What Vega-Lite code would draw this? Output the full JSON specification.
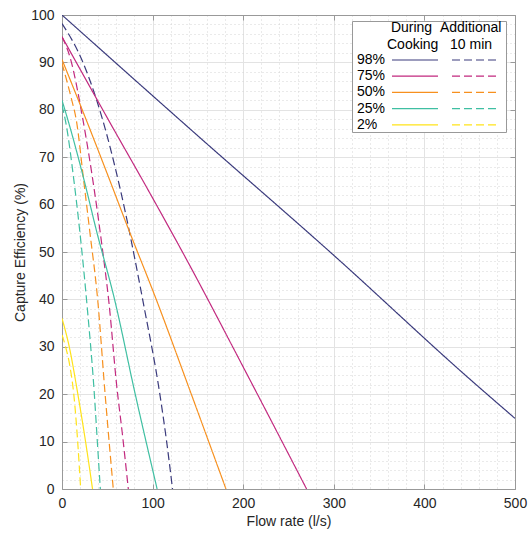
{
  "$schema": "https://vega.github.io/schema/vega-lite/v6.json",
  "width": 453,
  "height": 474,
  "autosize": {"type": "none"},
  "padding": {"left": 62, "top": 15, "right": 15, "bottom": 46},
  "background": "white",
  "config": {
    "font": "Liberation Sans",
    "view": {"stroke": null},
    "axis": {
      "labelFont": "Liberation Sans",
      "labelFontSize": 14,
      "labelColor": "#262626",
      "labelFlush": false,
      "titleFont": "Liberation Sans",
      "titleFontSize": 14,
      "titleFontWeight": "normal",
      "titleColor": "#262626",
      "domainColor": "#999999",
      "tickColor": "#999999",
      "domainWidth": 1
    }
  },
  "data": {
    "values": [
      {"series": "98% During Cooking", "flow": 0, "eff": 100},
      {"series": "98% During Cooking", "flow": 150, "eff": 74.5},
      {"series": "98% During Cooking", "flow": 300, "eff": 49.3},
      {"series": "98% During Cooking", "flow": 450, "eff": 23.2},
      {"series": "98% During Cooking", "flow": 500, "eff": 14.9},
      {"series": "98% Additional 10 min", "flow": 0, "eff": 98.2},
      {"series": "98% Additional 10 min", "flow": 22, "eff": 90.5},
      {"series": "98% Additional 10 min", "flow": 45, "eff": 77.8},
      {"series": "98% Additional 10 min", "flow": 64, "eff": 63.5},
      {"series": "98% Additional 10 min", "flow": 90, "eff": 39},
      {"series": "98% Additional 10 min", "flow": 108, "eff": 20},
      {"series": "98% Additional 10 min", "flow": 115.5, "eff": 10},
      {"series": "98% Additional 10 min", "flow": 122, "eff": 0},
      {"series": "75% During Cooking", "flow": 0, "eff": 95.4},
      {"series": "75% During Cooking", "flow": 14.3, "eff": 90.5},
      {"series": "75% During Cooking", "flow": 54.4, "eff": 76.8},
      {"series": "75% During Cooking", "flow": 95.3, "eff": 63},
      {"series": "75% During Cooking", "flow": 135.8, "eff": 49},
      {"series": "75% During Cooking", "flow": 207.5, "eff": 23},
      {"series": "75% During Cooking", "flow": 270, "eff": 0},
      {"series": "75% Additional 10 min", "flow": 0, "eff": 95.4},
      {"series": "75% Additional 10 min", "flow": 9, "eff": 91},
      {"series": "75% Additional 10 min", "flow": 23.2, "eff": 77.8},
      {"series": "75% Additional 10 min", "flow": 35.7, "eff": 63},
      {"series": "75% Additional 10 min", "flow": 44, "eff": 51.5},
      {"series": "75% Additional 10 min", "flow": 52, "eff": 39},
      {"series": "75% Additional 10 min", "flow": 60, "eff": 22.5},
      {"series": "75% Additional 10 min", "flow": 67, "eff": 11},
      {"series": "75% Additional 10 min", "flow": 73.2, "eff": 0},
      {"series": "50% During Cooking", "flow": 0, "eff": 90.6},
      {"series": "50% During Cooking", "flow": 26.9, "eff": 77.8},
      {"series": "50% During Cooking", "flow": 55, "eff": 64},
      {"series": "50% During Cooking", "flow": 71, "eff": 56},
      {"series": "50% During Cooking", "flow": 106, "eff": 39},
      {"series": "50% During Cooking", "flow": 136, "eff": 23.5},
      {"series": "50% During Cooking", "flow": 181, "eff": 0},
      {"series": "50% Additional 10 min", "flow": 0, "eff": 89.8},
      {"series": "50% Additional 10 min", "flow": 10.3, "eff": 82.4},
      {"series": "50% Additional 10 min", "flow": 15.8, "eff": 77.8},
      {"series": "50% Additional 10 min", "flow": 24, "eff": 65},
      {"series": "50% Additional 10 min", "flow": 30.5, "eff": 54.6},
      {"series": "50% Additional 10 min", "flow": 39.4, "eff": 39.9},
      {"series": "50% Additional 10 min", "flow": 47.5, "eff": 20.2},
      {"series": "50% Additional 10 min", "flow": 56.6, "eff": 0},
      {"series": "25% During Cooking", "flow": 0, "eff": 82},
      {"series": "25% During Cooking", "flow": 6.6, "eff": 77.8},
      {"series": "25% During Cooking", "flow": 24.6, "eff": 65},
      {"series": "25% During Cooking", "flow": 37.9, "eff": 54.6},
      {"series": "25% During Cooking", "flow": 58, "eff": 40},
      {"series": "25% During Cooking", "flow": 80.6, "eff": 20.2},
      {"series": "25% During Cooking", "flow": 105, "eff": 0},
      {"series": "25% Additional 10 min", "flow": 0, "eff": 81},
      {"series": "25% Additional 10 min", "flow": 4.7, "eff": 76.8},
      {"series": "25% Additional 10 min", "flow": 13.2, "eff": 65},
      {"series": "25% Additional 10 min", "flow": 19.5, "eff": 54.6},
      {"series": "25% Additional 10 min", "flow": 28, "eff": 38},
      {"series": "25% Additional 10 min", "flow": 35.7, "eff": 20},
      {"series": "25% Additional 10 min", "flow": 39, "eff": 10},
      {"series": "25% Additional 10 min", "flow": 42.3, "eff": 0},
      {"series": "2% During Cooking", "flow": 0, "eff": 36},
      {"series": "2% During Cooking", "flow": 8, "eff": 30},
      {"series": "2% During Cooking", "flow": 17.5, "eff": 20},
      {"series": "2% During Cooking", "flow": 26, "eff": 10},
      {"series": "2% During Cooking", "flow": 33.7, "eff": 0},
      {"series": "2% Additional 10 min", "flow": 0, "eff": 32.5},
      {"series": "2% Additional 10 min", "flow": 4, "eff": 30},
      {"series": "2% Additional 10 min", "flow": 8.8, "eff": 25.8},
      {"series": "2% Additional 10 min", "flow": 13, "eff": 20},
      {"series": "2% Additional 10 min", "flow": 17.3, "eff": 10},
      {"series": "2% Additional 10 min", "flow": 20.6, "eff": 0}
    ]
  },
  "resolve": {"axis": {"x": "independent", "y": "independent"}},
  "layer": [
    {
      "mark": {"type": "line", "opacity": 0},
      "encoding": {
        "x": {"field": "flow", "type": "quantitative", "scale": {"domain": [0, 500], "nice": false},
          "axis": {"orient": "bottom", "values": [20,40,60,80,120,140,160,180,220,240,260,280,320,340,360,380,420,440,460,480],
            "grid": true, "gridDash": [1, 3], "gridColor": "#d4d4d4", "labels": false, "ticks": false, "domain": false, "title": null}},
        "y": {"field": "eff", "type": "quantitative", "scale": {"domain": [0, 100], "nice": false},
          "axis": {"orient": "left", "values": [2,4,6,8,12,14,16,18,22,24,26,28,32,34,36,38,42,44,46,48,52,54,56,58,62,64,66,68,72,74,76,78,82,84,86,88,92,94,96,98],
            "grid": true, "gridDash": [1, 3], "gridColor": "#d4d4d4", "labels": false, "ticks": false, "domain": false, "title": null}},
        "detail": {"field": "series"}
      }
    },
    {
      "mark": {"type": "line", "opacity": 0},
      "encoding": {
        "x": {"field": "flow", "type": "quantitative",
          "axis": {"orient": "top", "values": [0,100,200,300,400,500], "grid": false, "labels": false, "tickSize": -5, "domain": true, "title": null}},
        "y": {"field": "eff", "type": "quantitative",
          "axis": {"orient": "right", "values": [0,10,20,30,40,50,60,70,80,90,100], "grid": false, "labels": false, "tickSize": -5, "domain": true, "title": null}},
        "detail": {"field": "series"}
      }
    },
    {
      "mark": {"type": "line", "strokeWidth": 1.2, "interpolate": "monotone", "clip": true},
      "encoding": {
        "x": {"field": "flow", "type": "quantitative",
          "axis": {"orient": "bottom", "values": [0,100,200,300,400,500], "grid": true, "gridColor": "#e3e3e3", "tickSize": -5, "labelPadding": 12, "title": "Flow rate (l/s)", "titlePadding": 4}},
        "y": {"field": "eff", "type": "quantitative",
          "axis": {"orient": "left", "values": [0,10,20,30,40,50,60,70,80,90,100], "grid": true, "gridColor": "#e3e3e3", "tickSize": -5, "labelPadding": 13, "title": "Capture Efficiency (%)", "titlePadding": 3}},
        "color": {
          "field": "series", "type": "nominal",
          "scale": {
            "domain": ["98% During Cooking", "98% Additional 10 min", "75% During Cooking", "75% Additional 10 min", "50% During Cooking", "50% Additional 10 min", "25% During Cooking", "25% Additional 10 min", "2% During Cooking", "2% Additional 10 min"],
            "range": ["#3a3a7c", "#3a3a7c", "#c2297f", "#c2297f", "#f7901e", "#f7901e", "#3fbfa2", "#3fbfa2", "#ffe31a", "#ffe31a"]
          },
          "legend": {
            "title": ["\u200b\u00a0\u00a0\u00a0\u00a0\u00a0\u00a0\u00a0\u00a0\u00a0\u00a0During\u00a0\u00a0Additional\u00a0\u200b", "\u200b\u00a0\u00a0\u00a0\u00a0\u00a0\u00a0\u00a0\u00a0\u00a0Cooking\u00a0\u00a0\u00a010 min"],
            "orient": "none", "legendX": 290, "legendY": 6, "direction": "horizontal",
            "columns": 2, "columnPadding": 8, "rowPadding": 2.2,
            "symbolType": "M-4.6,0H4.6", "symbolSize": 100, "symbolStrokeWidth": 1.2, "symbolOffset": 0,
            "labelExpr": "indexof(datum.label, 'During') >= 0 ? split(datum.label, ' ')[0] : ''",
            "labelAlign": "left", "labelOffset": -13, "labelFontSize": 14, "labelColor": "#000000", "labelFont": "Liberation Sans",
            "titleFontSize": 14, "titleFontWeight": "normal", "titleLineHeight": 17, "titleColor": "#000000", "titleFont": "Liberation Sans", "titleAnchor": "start", "titleAlign": "left", "titlePadding": 1,
            "strokeColor": "#999999", "fillColor": "white", "padding": 0,
            "encode": {
              "symbols": {"update": {"x": [{"test": "indexof(datum.value, 'During') >= 0", "value": 63}, {"value": 23}]}},
              "labels": {"update": {"x": {"value": 5}}}
            }
          }
        },
        "strokeDash": {
          "field": "series", "type": "nominal",
          "scale": {
            "domain": ["98% During Cooking", "98% Additional 10 min", "75% During Cooking", "75% Additional 10 min", "50% During Cooking", "50% Additional 10 min", "25% During Cooking", "25% Additional 10 min", "2% During Cooking", "2% Additional 10 min"],
            "range": [[1, 0], [8, 4], [1, 0], [8, 4], [1, 0], [8, 4], [1, 0], [8, 4], [1, 0], [8, 4]]
          },
          "legend": {
            "title": ["\u200b\u00a0\u00a0\u00a0\u00a0\u00a0\u00a0\u00a0\u00a0\u00a0\u00a0During\u00a0\u00a0Additional\u00a0\u200b", "\u200b\u00a0\u00a0\u00a0\u00a0\u00a0\u00a0\u00a0\u00a0\u00a0Cooking\u00a0\u00a0\u00a010 min"],
            "orient": "none", "legendX": 290, "legendY": 6, "direction": "horizontal",
            "columns": 2, "columnPadding": 8, "rowPadding": 2.2,
            "symbolType": "M-4.6,0H4.6", "symbolSize": 100, "symbolStrokeWidth": 1.2, "symbolOffset": 0,
            "labelExpr": "indexof(datum.label, 'During') >= 0 ? split(datum.label, ' ')[0] : ''",
            "labelAlign": "left", "labelOffset": -13, "labelFontSize": 14, "labelColor": "#000000", "labelFont": "Liberation Sans",
            "titleFontSize": 14, "titleFontWeight": "normal", "titleLineHeight": 17, "titleColor": "#000000", "titleFont": "Liberation Sans", "titleAnchor": "start", "titleAlign": "left", "titlePadding": 1,
            "strokeColor": "#999999", "fillColor": "white", "padding": 0,
            "encode": {
              "symbols": {"update": {"x": [{"test": "indexof(datum.value, 'During') >= 0", "value": 63}, {"value": 23}]}},
              "labels": {"update": {"x": {"value": 5}}}
            }
          }
        }
      }
    }
  ]
}
